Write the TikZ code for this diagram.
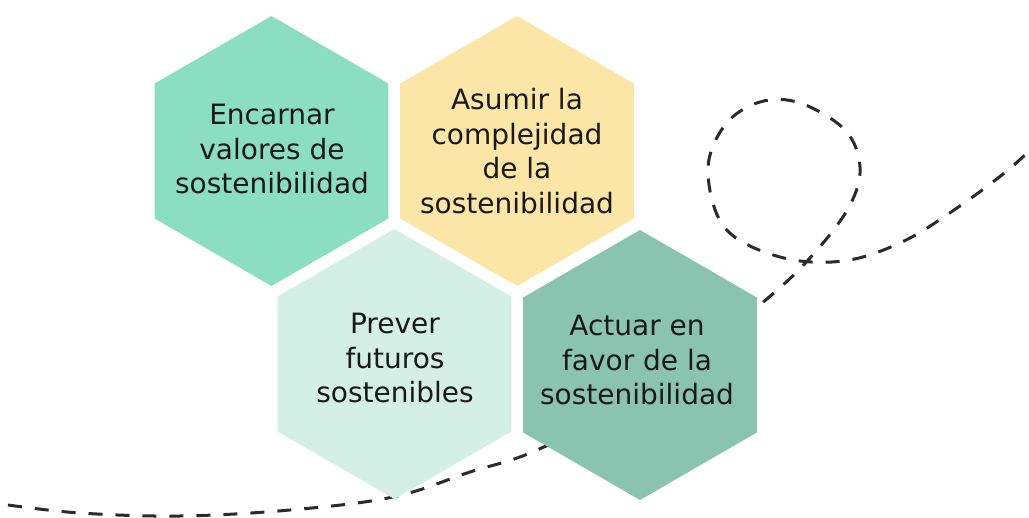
\documentclass[tikz,border=0pt]{standalone}
\usepackage{fontspec}
\setmainfont{DejaVu Sans}
\usepackage{tikz}
\definecolor{hexmint}{HTML}{8CDEC2}
\definecolor{hexsand}{HTML}{FCE6A7}
\definecolor{hexpale}{HTML}{D4EFE5}
\definecolor{hexsage}{HTML}{8AC4B1}
\definecolor{trailgray}{HTML}{2B2B2B}
\tikzset{
  trail/.style={draw=trailgray, line width=3pt, dash pattern=on 14pt off 13pt},
  celltext/.style={align=center, text=black!90, inner sep=0pt,
    font=\fontsize{28}{34.5}\selectfont}
}
\newcommand{\hexcell}[2]{\fill[#2] (#1) +(90:135) -- +(150:135) -- +(210:135) -- +(270:135) -- +(330:135) -- +(30:135) -- cycle}

\begin{document}
\begin{tikzpicture}[x=1pt, y=-1pt]
            \fill[white] (0,0) rectangle (1029,518);
            \useasboundingbox (0,0) rectangle (1029,518);
            \clip (0,0) rectangle (1029,518);

            \draw[trail] plot[smooth, tension=0.6] coordinates {(8,505) (80,513) (180,516) (290,510) (393,497) (470,472) (537,450) (650,392) (768,298) (817,250) (850,205) (860,167) (845,130) (800,103) (760,102) (725,125) (708,170) (725,228) (780,257) (843,261) (902,242) (957,208) (1008,170) (1045,136)};

            \coordinate (c1) at (271.5,151);
            \coordinate (c2) at (517,151);
            \coordinate (c3) at (394.5,364);
            \coordinate (c4) at (640,365);

            \hexcell{c1}{hexmint};
            \hexcell{c2}{hexsand};
            \hexcell{c3}{hexpale};
            \hexcell{c4}{hexsage};

            \node[celltext] (encarnar) at (272,149) {Encarnar\\valores de\\sostenibilidad};
            \node[celltext] (asumir) at (517,151) {Asumir la\\complejidad\\de la\\sostenibilidad};
            \node[celltext] (prever) at (395,358) {Prever\\futuros\\sostenibles};
            \node[celltext] (actuar) at (637,360) {Actuar en\\favor de la\\sostenibilidad};
        \end{tikzpicture}
\end{document}
